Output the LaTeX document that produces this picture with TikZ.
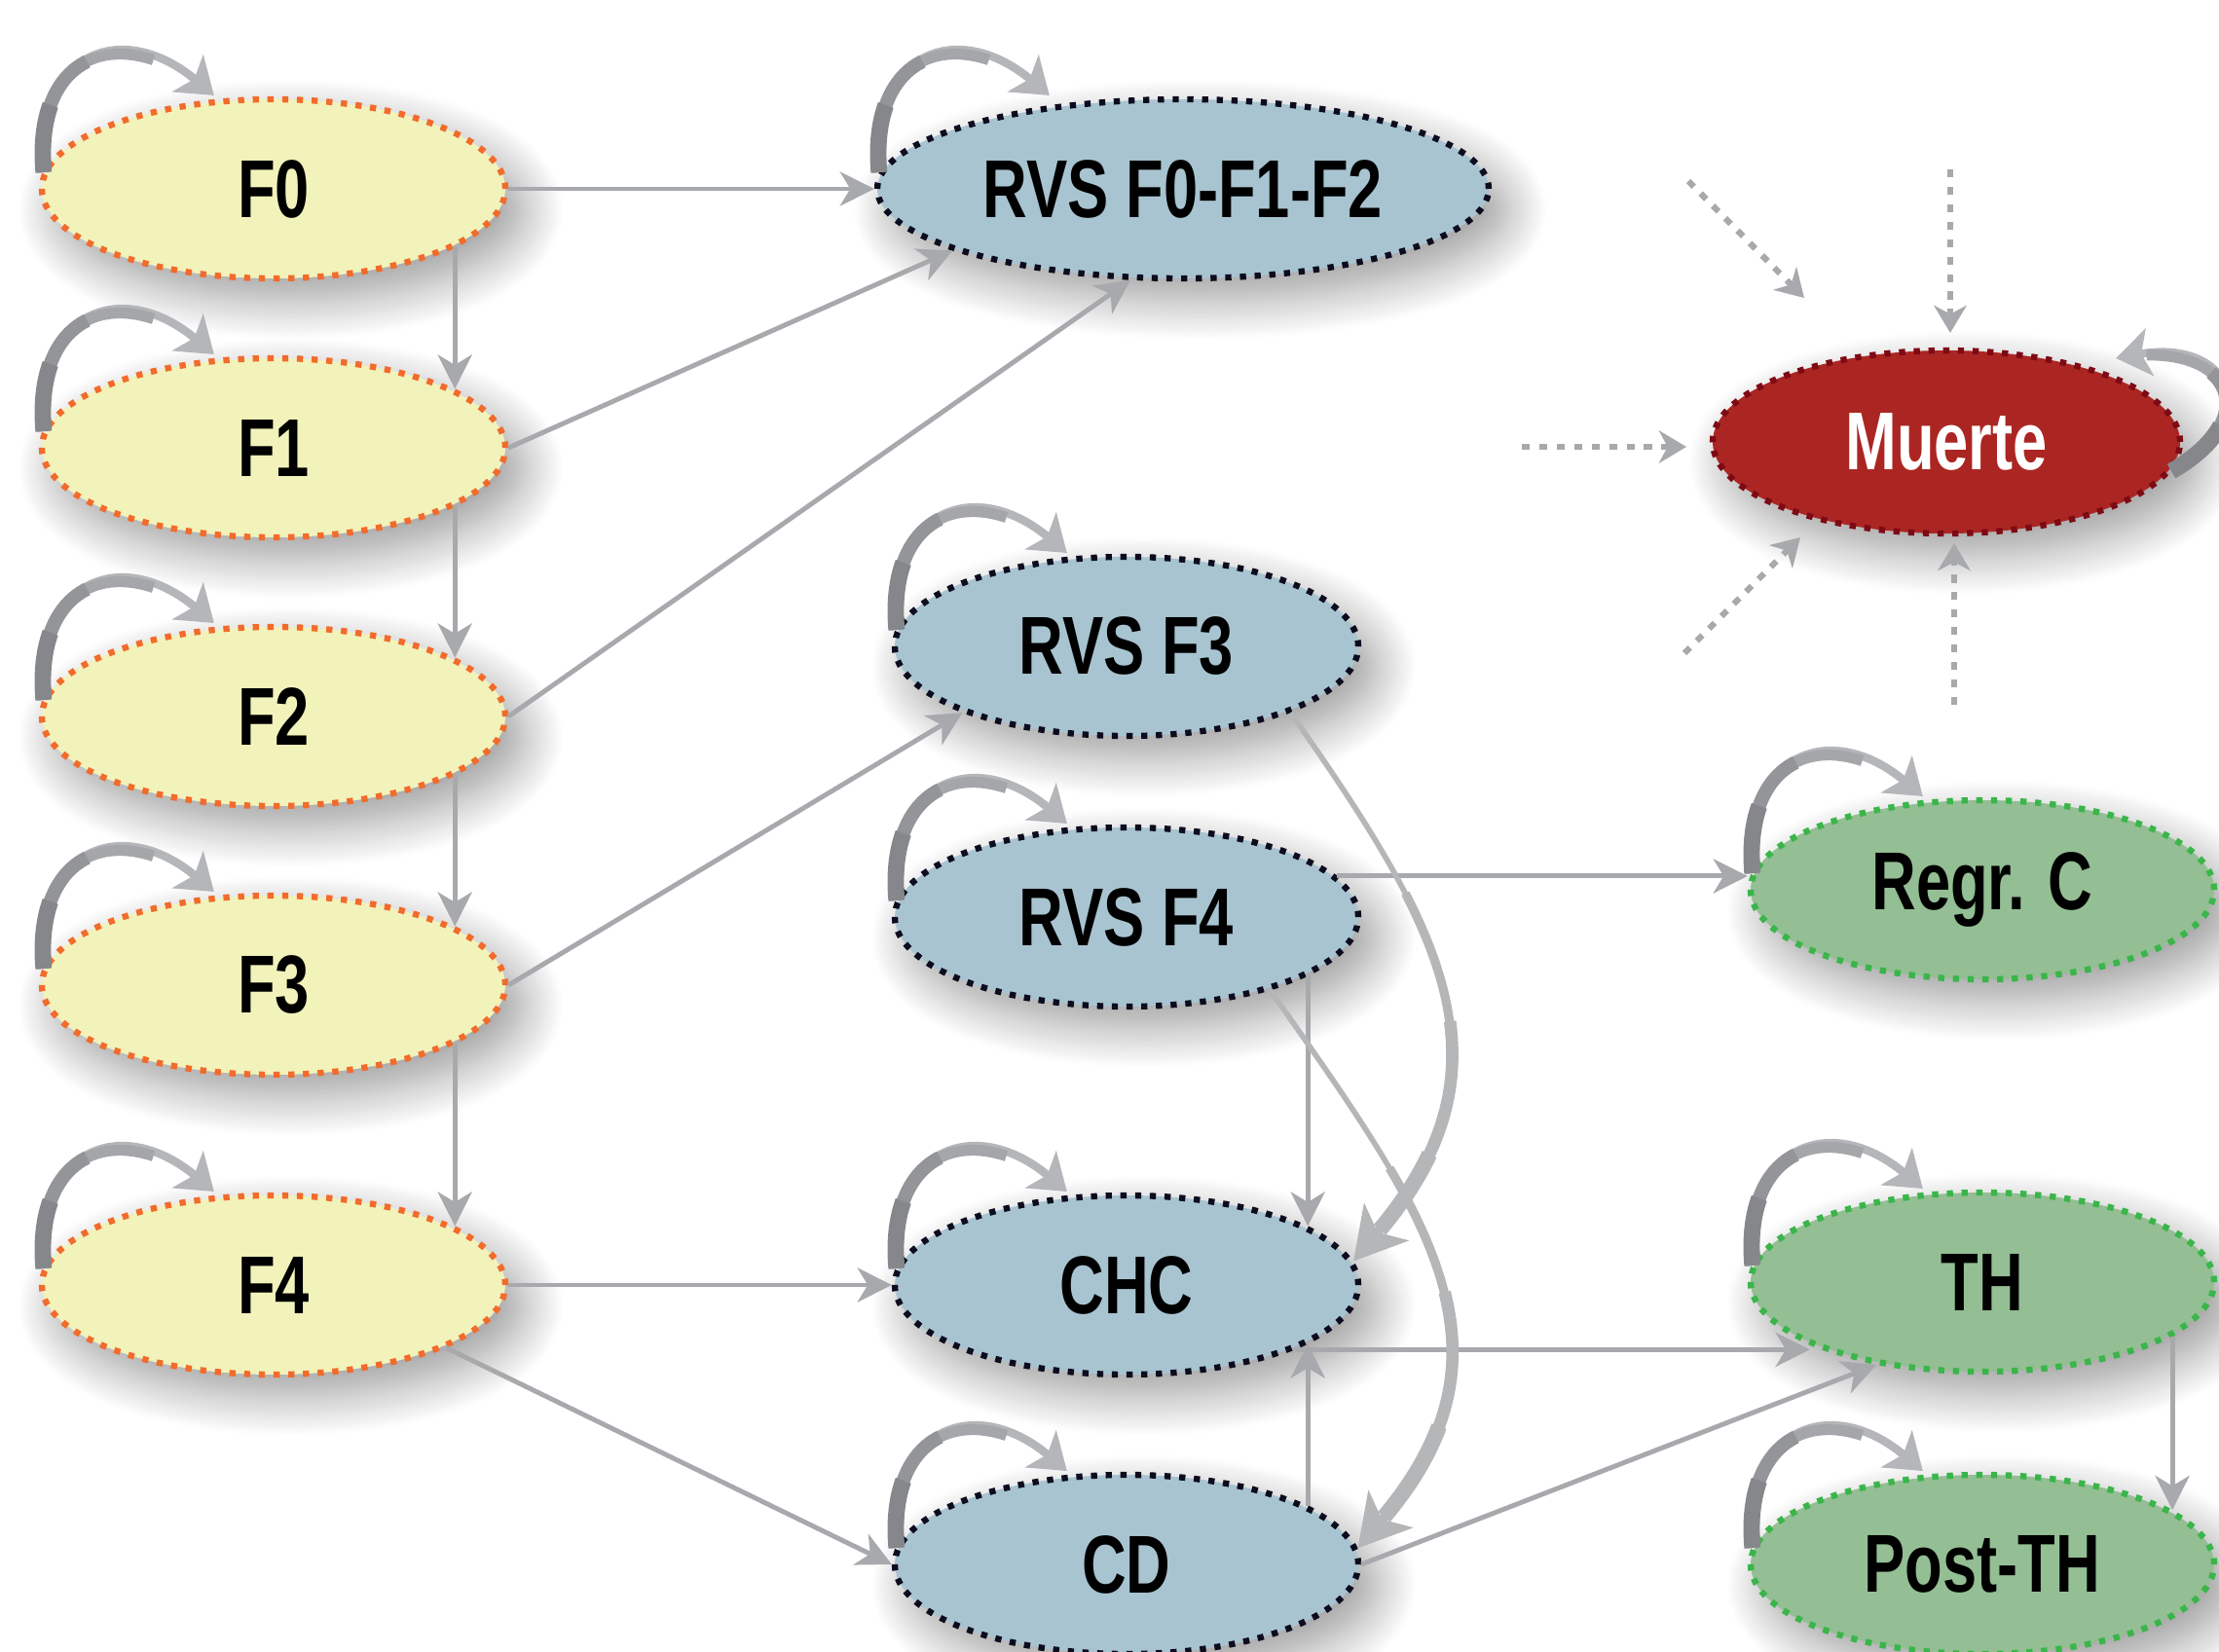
\documentclass[tikz,border=0pt]{standalone}
\usepackage{fontspec}
\setmainfont[FakeStretch=0.75]{Liberation Sans}
\usetikzlibrary{positioning,arrows.meta,calc,shapes.geometric,shadows.blur}
\definecolor{fasefill}{HTML}{F2F2BB}
\definecolor{faseline}{HTML}{F26B2B}
\definecolor{rvsfill}{HTML}{A8C4D1}
\definecolor{rvsline}{HTML}{0D0C1E}
\definecolor{muertefill}{HTML}{AB2623}
\definecolor{muerteline}{HTML}{7D0A14}
\definecolor{tratfill}{HTML}{94BE94}
\definecolor{tratline}{HTML}{3AB54A}
\definecolor{arrowgray}{HTML}{A7A9AC}
\definecolor{loopgray}{HTML}{B4B6B9}
\definecolor{loopdark}{HTML}{85878A}

\tikzset{
  estado/.style={ellipse, minimum width=4.76cm, minimum height=1.84cm, inner sep=0pt,
    line width=1.8pt, dash pattern=on 1.8pt off 2.5pt, font=\fontsize{24}{28}\selectfont\bfseries,
    blur shadow={shadow xshift=5pt, shadow yshift=-6pt, shadow blur radius=12pt, shadow blur steps=24, shadow opacity=40}},
  fase/.style={estado, draw=faseline, fill=fasefill},
  rvs/.style={estado, draw=rvsline, fill=rvsfill},
  trat/.style={estado, draw=tratline, fill=tratfill},
  muerte/.style={estado, draw=muerteline, fill=muertefill, text=white, minimum width=4.8cm, minimum height=1.88cm},
  flecha/.style={draw=arrowgray, line width=1.4pt, -{Stealth[length=10pt,width=10pt,inset=3pt]}},
  bucle/.style={draw=loopgray, line width=2.4pt, -{Stealth[length=10pt,width=14pt,inset=2.5pt]}},
  bucle1/.style={draw=loopgray!65!loopdark, line width=3.2pt, dash pattern=on 2.0cm off 20cm},
  bucle2/.style={draw=loopgray!30!loopdark, line width=4.0pt, dash pattern=on 1.3cm off 20cm},
  bucle3/.style={draw=loopdark, line width=4.8pt, dash pattern=on 0.7cm off 20cm},
  gruesa/.style={draw=arrowgray!85, line width=1.6pt, -{Stealth[length=15pt,width=17pt,inset=4pt]}},
  gruesa1/.style={draw=arrowgray!85, line width=2.6pt, dash pattern=on 0pt off 2.2cm on 20cm, shorten >=11pt},
  gruesa2/.style={draw=arrowgray!85, line width=3.6pt, dash pattern=on 0pt off 3.6cm on 20cm, shorten >=12pt},
  gruesa3/.style={draw=arrowgray!85, line width=4.6pt, dash pattern=on 0pt off 5.0cm on 20cm, shorten >=12pt},
  punteada/.style={draw=arrowgray, line width=1.8pt, dash pattern=on 2.3pt off 2.8pt, -{Stealth[length=8pt,width=9.5pt,inset=2.5pt]}},
}

\begin{document}
\begin{tikzpicture}[x=1cm,y=1cm]
\useasboundingbox (0,0) rectangle (22.79,-16.97);

% estados
\node[fase] (F0) at (2.81,-1.94) {F0};
\node[fase] (F1) at (2.81,-4.60) {F1};
\node[fase] (F2) at (2.81,-7.36) {F2};
\node[fase] (F3) at (2.81,-10.12) {F3};
\node[fase] (F4) at (2.81,-13.20) {F4};
\node[rvs, minimum width=6.28cm] (R012) at (12.15,-1.94) {RVS F0-F1-F2};
\node[rvs] (RF3) at (11.57,-6.64) {RVS F3};
\node[rvs] (RF4) at (11.57,-9.42) {RVS F4};
\node[rvs] (CHC) at (11.57,-13.20) {CHC};
\node[rvs] (CD) at (11.57,-16.07) {CD};
\node[muerte] (M) at (19.99,-4.54) {Muerte};
\node[trat] (RC) at (20.36,-9.14) {Regr. C};
\node[trat] (TH) at (20.36,-13.17) {TH};
\node[trat] (PTH) at (20.36,-16.07) {Post-TH};

% transiciones
\draw[flecha] (F0.east) -- (R012.west);
\foreach \a/\b in {F0/F1,F1/F2,F2/F3,F3/F4}
  \draw[flecha] (\a.-18) -- (\b.18);
\draw[flecha] (F1.east) -- (R012.195);
\draw[flecha] (F2.east) -- (R012.240);
\draw[flecha] (F3.east) -- (RF3.202);
\draw[flecha] (F4.east) -- (CHC.west);
\draw[flecha] (F4.-20) -- (CD.west);
\draw[flecha] (RF4.11) -- (RF4.11 -| RC.west);
\draw[flecha] (RF4.-18) -- (CHC.18);
\draw[flecha] (CD.18) -- (CHC.-18);
\draw[flecha] (CHC.-21) -- (CHC.-21 -| TH.200);
\draw[flecha] (CD.east) -- (TH.218);
\draw[flecha] (TH.-16) -- (PTH.16);
\foreach \a/\b/\s/\e in {RF3/CHC/-22/6, RF4/CD/-27/4}
  \foreach \st in {gruesa,gruesa1,gruesa2,gruesa3}
    \draw[\st] (\a.\s) to[out=-55,in=50,looseness=1.2] (\b.\e);

% bucles
\foreach \n in {F0,F1,F2,F3,F4,R012,RF3,RF4,CHC,CD,RC,TH,PTH}
  \foreach \st in {bucle,bucle1,bucle2,bucle3}
    \draw[\st] ([shift={(0.05,0.17)}]\n.west) to[out=95,in=140,looseness=1.65] ([shift={(1.8,0.96)}]\n.west);
\foreach \st in {bucle,bucle1,bucle2,bucle3}
  \draw[\st] ([shift={(-0.12,-0.30)}]M.east) to[out=30,in=10,looseness=2.3] ([shift={(-0.69,0.86)}]M.east);

% entradas a muerte
\coordinate (mA0) at ($(M)+(-2.65,2.68)$);
\coordinate (mA1) at ($(M)+(-1.46,1.48)$);
\coordinate (mB0) at ($(M)+(0.04,2.80)$);
\coordinate (mB1) at ($(M)+(0.04,1.12)$);
\coordinate (mC0) at ($(M)+(-4.36,-0.05)$);
\coordinate (mC1) at ($(M)+(-2.67,-0.05)$);
\coordinate (mD0) at ($(M)+(-2.69,-2.17)$);
\coordinate (mD1) at ($(M)+(-1.50,-0.98)$);
\coordinate (mE0) at ($(M)+(0.08,-2.70)$);
\coordinate (mE1) at ($(M)+(0.08,-1.04)$);
\foreach \p in {mA,mB,mC,mD,mE}
  \draw[punteada] (\p0) -- (\p1);
\end{tikzpicture}
\end{document}
